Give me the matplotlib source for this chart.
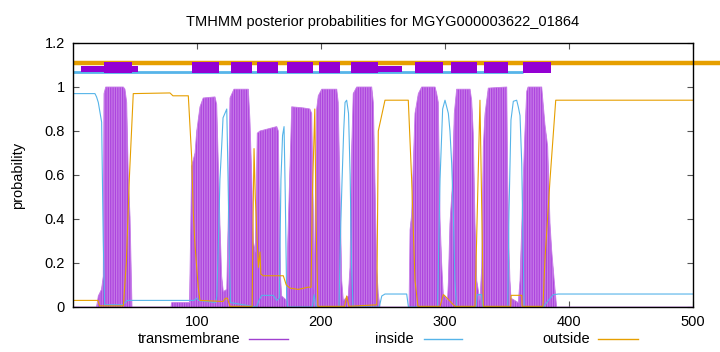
import numpy as np
import matplotlib.pyplot as plt
from matplotlib.lines import Line2D

plt.rcParams['font.family'] = ['Liberation Sans', 'DejaVu Sans']
plt.rcParams['hatch.linewidth'] = 0.9

title = 'TMHMM posterior probabilities for MGYG000003622_01864'

# transmembrane posterior (residue, probability)
tm_x = [0, 19, 20.4, 23, 24.4, 25, 26.4, 40.6, 41.9, 43.3, 44.6, 46, 47.6, 79, 79.6, 94,
        95.7, 98.4, 99.8, 102.4, 105, 114.5, 115.9, 117.2, 118.5, 119.9, 121.2, 124, 125.2, 126.6,
        129.8, 141.4, 142.7, 144.1, 145.4, 147, 148.6, 150.8, 164.3, 165.6, 166.4, 167.5, 168.3,
        172.3, 172.8, 175, 176.4, 185.7, 191, 192.5, 193.8, 194.5, 196.5, 197.8, 200.6, 212.7,
        213.9, 215.3, 216.7, 218, 222, 223.4, 224.8, 226, 228.8, 240.9, 242.2, 243.5, 244.9,
        246.2, 247.6, 271, 271.8, 273.1, 275.8, 278.5, 281.2, 292, 293.3, 294.6, 296, 297.3,
        298.6, 302, 302.7, 304, 305.9, 307.5, 309.4, 320.2, 321.5, 322.8, 324.2, 325.6, 328.2,
        329.6, 330.9, 332.3, 334.9, 349.8, 350.6, 351.6, 352.4, 353.2, 359.1, 360.5, 363.1,
        364.5, 365.9, 367, 378, 380.6, 382.8, 384.7, 386, 388.1, 390, 500]
tm_y = [0, 0, 0.05, 0.08, 0.14, 0.97, 1.0, 1.0, 0.99, 0.93, 0.59, 0.41, 0.0, 0.0, 0.02, 0.02,
        0.64, 0.7, 0.8, 0.91, 0.95, 0.955, 0.92, 0.65, 0.38, 0.14, 0.07, 0.08, 0.4, 0.95,
        0.99, 0.99, 0.85, 0.6, 0.3, 0.25, 0.79, 0.8, 0.82, 0.8, 0.43, 0.12, 0.05,
        0.03, 0.22, 0.64, 0.91, 0.905, 0.9, 0.88, 0.43, 0.08, 0.9, 0.96, 0.99, 0.99,
        0.93, 0.53, 0.12, 0.03, 0.05, 0.18, 0.73, 0.97, 1.0, 1.0, 0.93, 0.58, 0.18,
        0.06, 0.0, 0.0, 0.35, 0.42, 0.88, 0.97, 1.0, 1.0, 0.97, 0.93, 0.4, 0.2,
        0.06, 0.03, 0.11, 0.38, 0.55, 0.88, 0.99, 0.99, 0.94, 0.79, 0.38, 0.12, 0.03,
        0.18, 0.73, 0.88, 0.995, 1.0, 0.58, 0.27, 0.12, 0.04, 0.02, 0.12, 0.58,
        0.8, 0.98, 1.0, 1.0, 0.83, 0.73, 0.38, 0.26, 0.12, 0.0, 0.0]

# inside posterior
in_x = [0, 17.7, 19, 20.4, 23.1, 24.4, 25.5, 40, 44, 97.5, 99.8, 101, 115, 116, 117.5, 118.5,
        119.9, 121, 124, 125, 126, 127, 148, 150, 152.2, 161.5, 164.3, 166.4, 167.7, 169, 170.2,
        171.2, 172.3, 173, 193, 194.5, 196, 214.5, 215.8, 217, 218.3, 219.4, 220.7, 222.2,
        223.5, 224.6, 225.8, 247, 249, 251.6, 269.1, 270.5, 294, 296, 298.1, 300, 302.7, 304,
        305.4, 306.7, 308, 309.4, 325, 326, 329.5, 330.5, 350.6, 351.6, 353.2, 355.1, 357.8,
        359.1, 360.5, 361.9, 362.7, 363.9, 379.3, 382, 387.3, 391.4, 500]
in_y = [0.97, 0.97, 0.955, 0.93, 0.84, 0.3, 0.01, 0.01, 0.03, 0.03, 0.04, 0.03, 0.02, 0.05, 0.35, 0.58,
        0.73, 0.86, 0.9, 0.6, 0.25, 0.02, 0.0, 0.03, 0.053, 0.053, 0.03, 0.04, 0.58, 0.78, 0.82,
        0.5, 0.05, 0.0, 0.0, 0.056, 0.0, 0.0, 0.35, 0.58, 0.8, 0.93, 0.94, 0.88,
        0.6, 0.2, 0.0, 0.0, 0.05, 0.059, 0.059, 0.0, 0.0, 0.58, 0.9, 0.94, 0.88, 0.8,
        0.65, 0.43, 0.12, 0.0, 0.0, 0.056, 0.056, 0.0, 0.0, 0.43, 0.85, 0.935, 0.94,
        0.91, 0.87, 0.65, 0.35, 0.0, 0.0, 0.02, 0.056, 0.059, 0.059]

# outside posterior
out_x = [0, 20, 21.5, 40.6, 43, 45.4, 48.6, 78.2, 80.6, 93, 95.7, 97, 98.4, 101, 102.4, 121, 123,
         124.5, 126.6, 144.5, 145.2, 146, 147, 149.5, 150.8, 151.5, 153.5, 169.6, 172, 175,
         181.7, 189.5, 192, 193, 195, 196, 197.5, 219, 220.7, 222.5, 245, 246.2, 251.6, 270.4,
         273.1, 275.8, 278.2, 296, 298.6, 300, 308, 324.2, 328.2, 330.9, 353, 353.3, 361.9,
         362.2, 379, 380.6, 384.7, 389.3, 500]
out_y = [0.03, 0.03, 0.005, 0.005, 0.2, 0.58, 0.97, 0.973, 0.96, 0.96, 0.68, 0.43, 0.28, 0.09, 0.03, 0.025, 0.04,
         0.04, 0.003, 0.003, 0.4, 0.72, 0.5, 0.18, 0.25, 0.15, 0.142, 0.142, 0.1, 0.086,
         0.08, 0.09, 0.09, 0.5, 0.9, 0.4, 0.003, 0.003, 0.05, 0.003, 0.01, 0.8, 0.94, 0.94,
         0.58, 0.12, 0.003, 0.003, 0.056, 0.05, 0.003, 0.003, 0.94, 0.003, 0.003, 0.053, 0.053,
         0.003, 0.003, 0.215, 0.58, 0.94, 0.94]

# topology track on top
tm_boxes = [(25, 47.6), (96, 117.7), (127.4, 144.4), (148.4, 165.3), (172.6, 193.5),
            (198.4, 215.3), (224.2, 246), (275.8, 298.4), (304.8, 325.8), (331.5, 350.8), (363, 385.5)]
tm_thin = [(6.5, 25), (47.6, 52.4), (246, 265.3)]
inside_track = (0, 363)
outside_track = (0, 522)

c_tm = '#9400d3'
c_in = '#56b4e9'
c_out = '#e69f00'

fig = plt.figure(figsize=(7.2, 3.52), dpi=100)
ax = fig.add_axes([73 / 720, 45 / 352, 620 / 720, 264 / 352])

ax.fill_between(tm_x, 0, tm_y, facecolor='#c77de8', edgecolor='#ad45de', hatch='|' * 7,
                linewidth=0, zorder=2)
ax.plot(tm_x, tm_y, color='#c77de8', lw=0.6, zorder=2)
ax.plot(in_x, in_y, color=c_in, lw=0.8, zorder=3)
ax.plot(out_x, out_y, color=c_out, lw=0.8, zorder=3)

ax.plot(outside_track, [1.107, 1.107], color=c_out, lw=3.2, clip_on=False, zorder=4,
        solid_capstyle='butt')
ax.plot(inside_track, [1.069, 1.069], color=c_in, lw=2.0, zorder=4, solid_capstyle='butt')
ax.broken_barh([(a, b - a) for a, b in tm_boxes], (1.063, 0.05), facecolor=c_tm, zorder=5)
ax.broken_barh([(a, b - a) for a, b in tm_thin], (1.066, 0.031), facecolor=c_tm, zorder=5)

ax.set_xlim(0, 500)
ax.set_ylim(0, 1.2)
ax.set_xticks([100, 200, 300, 400, 500])
ax.set_yticks([0, 0.2, 0.4, 0.6, 0.8, 1.0, 1.2])
ax.set_yticklabels(['0', '0.2', '0.4', '0.6', '0.8', '1', '1.2'])
ax.tick_params(direction='in', length=4, width=0.8, color='#555555', labelsize=10.5,
               top=True, right=True, pad=6)
for s in ax.spines.values():
    s.set_linewidth(1.0)
    s.set_zorder(6)
ax.set_ylabel('probability', fontsize=10.5, labelpad=14)
ax.set_title(title, fontsize=10.5, pad=12)

# gnuplot-style key below the plot
key_y = 1 - 339 / 352
for label, color, xt, x0, x1 in [('transmembrane', '#a040d0', 240, 249, 288),
                                 ('inside', c_in, 414, 424, 462),
                                 ('outside', c_out, 590, 598, 638)]:
    fig.text(xt / 720, key_y, label, ha='right', va='center', fontsize=10.5)
    fig.add_artist(Line2D([x0 / 720, x1 / 720], [key_y] * 2, color=color, lw=1.0))

fig.savefig('out.png', dpi=100)
